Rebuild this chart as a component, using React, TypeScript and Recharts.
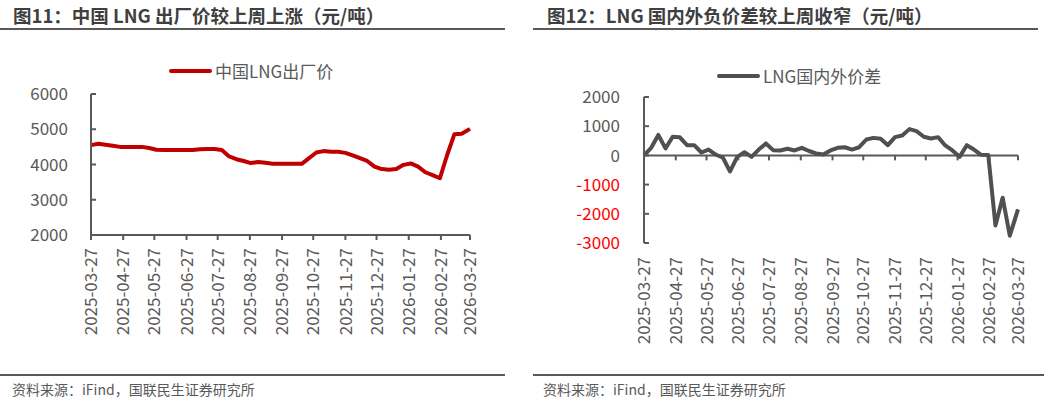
import React from "react";
import {
  LineChart,
  Line,
  XAxis,
  YAxis,
  ReferenceLine,
} from "recharts";

// weekly observation dates
const weeks = [
  "2025-03-27", "2025-04-03", "2025-04-10", "2025-04-17", "2025-04-24",
  "2025-05-01", "2025-05-08", "2025-05-15", "2025-05-22", "2025-05-29",
  "2025-06-05", "2025-06-12", "2025-06-19", "2025-06-26", "2025-07-03",
  "2025-07-10", "2025-07-17", "2025-07-24", "2025-07-31", "2025-08-07",
  "2025-08-14", "2025-08-21", "2025-08-28", "2025-09-04", "2025-09-11",
  "2025-09-18", "2025-09-25", "2025-10-02", "2025-10-09", "2025-10-16",
  "2025-10-23", "2025-10-30", "2025-11-06", "2025-11-13", "2025-11-20",
  "2025-11-27", "2025-12-04", "2025-12-11", "2025-12-18", "2025-12-25",
  "2026-01-01", "2026-01-08", "2026-01-15", "2026-01-22", "2026-01-29",
  "2026-02-05", "2026-02-12", "2026-02-19", "2026-02-26", "2026-03-05",
  "2026-03-12", "2026-03-19", "2026-03-27",
];

// 中国LNG出厂价 (元/吨)
const factoryPrice = [
  4550, 4590, 4560, 4530, 4500, 4500, 4500, 4500, 4470, 4420,
  4410, 4410, 4410, 4410, 4410, 4430, 4440, 4440, 4410, 4230,
  4150, 4100, 4040, 4070, 4050, 4020, 4020, 4020, 4020, 4020,
  4180, 4340, 4380, 4360, 4360, 4330, 4260, 4180, 4100, 3940,
  3870, 3850, 3870, 3990, 4030, 3940, 3780, 3700, 3610, 4270,
  4860, 4870, 5010,
];

// LNG国内外价差 (元/吨)
const spread = [
  0, 260, 700, 240, 640, 620, 350, 350, 100, 200,
  30, -80, -550, -50, 110, -50, 200, 410, 180, 170,
  230, 170, 260, 150, 70, 30, 170, 260, 280, 200,
  280, 545, 600, 570, 350, 625, 680, 900, 830, 640,
  580, 625, 340, 170, -50, 350, 200, 20, 10, -2400,
  -1450, -2750, -1850,
];

const monthTicks = [
  "2025-03-27", "2025-04-27", "2025-05-27", "2025-06-27", "2025-07-27",
  "2025-08-27", "2025-09-27", "2025-10-27", "2025-11-27", "2025-12-27",
  "2026-01-27", "2026-02-27", "2026-03-27",
];

const priceTicks = [2000, 3000, 4000, 5000, 6000];
const spreadTicks = [-3000, -2000, -1000, 0, 1000, 2000];

const toTime = (s: string) => Date.parse(s + "T00:00:00Z");
const fmtDate = (t: number) => new Date(t).toISOString().slice(0, 10);

const tickTimes = monthTicks.map(toTime);
const xDomain = [tickTimes[0], tickTimes[tickTimes.length - 1]];

const priceData = weeks.map((d, i) => ({ t: toTime(d), v: factoryPrice[i] }));
const spreadData = weeks.map((d, i) => ({ t: toTime(d), v: spread[i] }));

const FONT = '"Noto Sans CJK SC", "Noto Sans", sans-serif';
const GREY = "#595959";
const AXIS = "#595959";

const DateTick = (props: any) => {
  const { x, y, payload } = props;
  return (
    <text
      x={x}
      y={y}
      transform={`rotate(-90, ${x}, ${y})`}
      textAnchor="end"
      dy="0.36em"
      fill={GREY}
      fontSize={17}
    >
      {fmtDate(payload.value)}
    </text>
  );
};

const ValueTick = (props: any) => {
  const { x, y, payload } = props;
  return (
    <text
      x={x}
      y={y}
      textAnchor="end"
      dy="0.36em"
      fill={payload.value < 0 ? "#FF0000" : GREY}
      fontSize={17}
    >
      {payload.value}
    </text>
  );
};

const Title = ({ left, lineLeft, lineWidth, text }: any) => (
  <>
    <div
      style={{
        position: "absolute",
        left,
        top: 3,
        fontSize: 18.5,
        fontWeight: 700,
        color: "#3f3f3f",
        whiteSpace: "nowrap",
        lineHeight: "24px",
      }}
    >
      {text}
    </div>
    <div
      style={{
        position: "absolute",
        left: lineLeft,
        top: 28,
        width: lineWidth,
        height: 2,
        background: AXIS,
      }}
    />
  </>
);

const Source = ({ left, lineLeft, lineWidth }: any) => (
  <>
    <div
      style={{
        position: "absolute",
        left: lineLeft,
        top: 374,
        width: lineWidth,
        height: 2,
        background: AXIS,
      }}
    />
    <div
      style={{
        position: "absolute",
        left,
        top: 381,
        fontSize: 14,
        color: GREY,
        whiteSpace: "nowrap",
        lineHeight: "17px",
      }}
    >
      资料来源：iFind，国联民生证券研究所
    </div>
  </>
);

const LegendItem = ({ left, top, color, label }: any) => (
  <div
    style={{
      position: "absolute",
      left,
      top,
      display: "flex",
      alignItems: "center",
      whiteSpace: "nowrap",
      fontSize: 17,
      color: GREY,
    }}
  >
    <span
      style={{
        display: "inline-block",
        width: 43,
        height: 4,
        borderRadius: 2,
        background: color,
        marginRight: 3,
      }}
    />
    {label}
  </div>
);

export default function App() {
  return (
    <div
      style={{
        position: "absolute",
        left: 0,
        top: 0,
        width: 1044,
        height: 399,
        background: "#fff",
        fontFamily: FONT,
        overflow: "hidden",
      }}
    >
      <Title left={13} lineLeft={0} lineWidth={505} text="图11：中国 LNG 出厂价较上周上涨（元/吨）" />
      <Title left={547} lineLeft={533} lineWidth={505} text="图12：LNG 国内外负价差较上周收窄（元/吨）" />

      <LegendItem left={169} top={58} color="#C00000" label="中国LNG出厂价" />
      <LegendItem left={717} top={63} color="#505050" label="LNG国内外价差" />

      <div style={{ position: "absolute", left: 0, top: 0 }}>
        <LineChart
          width={520}
          height={360}
          data={priceData}
          margin={{ top: 94, right: 50, bottom: 15, left: 0 }}
        >
          <XAxis
            dataKey="t"
            type="number"
            scale="time"
            domain={xDomain}
            ticks={tickTimes}
            height={110}
            stroke={AXIS}
            strokeWidth={2}
            tickSize={5}
            tickMargin={8}
            tick={<DateTick />}
            interval={0}
          />
          <YAxis
            domain={[2000, 6000]}
            ticks={priceTicks}
            width={91}
            stroke={AXIS}
            strokeWidth={2}
            tickSize={-5}
            tickMargin={28}
            tick={<ValueTick />}
            interval={0}
          />
          <Line
            type="linear"
            dataKey="v"
            stroke="#C00000"
            strokeWidth={4}
            dot={false}
            strokeLinejoin="round"
            isAnimationActive={false}
          />
        </LineChart>
      </div>

      <div style={{ position: "absolute", left: 520, top: 0 }}>
        <LineChart
          width={524}
          height={360}
          data={spreadData}
          margin={{ top: 97, right: 26, bottom: 7, left: 0 }}
        >
          <XAxis
            dataKey="t"
            type="number"
            scale="time"
            domain={xDomain}
            ticks={tickTimes}
            height={110}
            axisLine={false}
            tickLine={false}
            tickSize={0}
            tickMargin={14}
            tick={<DateTick />}
            interval={0}
          />
          <YAxis
            domain={[-3000, 2000]}
            ticks={spreadTicks}
            width={124}
            stroke={AXIS}
            strokeWidth={2}
            tickSize={-5}
            tickMargin={29}
            tick={<ValueTick />}
            interval={0}
          />
          <ReferenceLine y={0} stroke={AXIS} strokeWidth={2} />
          {tickTimes.map((t) => (
            <ReferenceLine
              key={t}
              segment={[
                { x: t, y: 0 },
                { x: t, y: -170 },
              ]}
              stroke={AXIS}
              strokeWidth={2}
            />
          ))}
          <Line
            type="linear"
            dataKey="v"
            stroke="#505050"
            strokeWidth={4}
            dot={false}
            strokeLinejoin="round"
            isAnimationActive={false}
          />
        </LineChart>
      </div>

      <Source left={12} lineLeft={0} lineWidth={505} />
      <Source left={543} lineLeft={533} lineWidth={511} />
    </div>
  );
}
